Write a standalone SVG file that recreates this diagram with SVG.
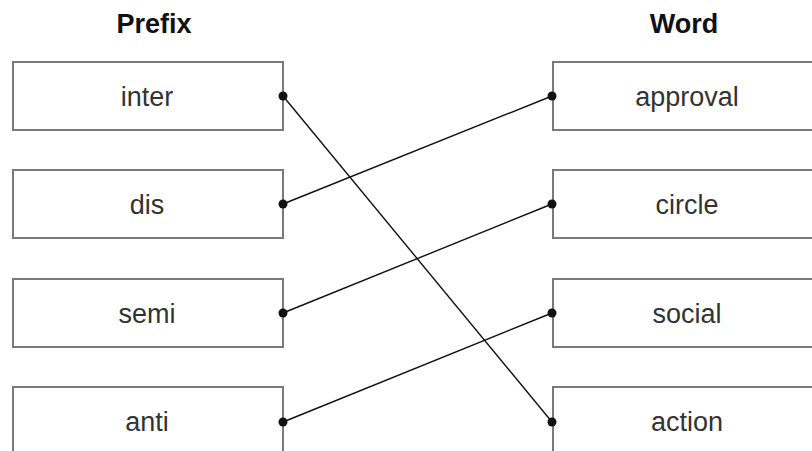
<svg xmlns="http://www.w3.org/2000/svg" width="812" height="451" viewBox="0 0 812 451">
<style>
.box{fill:#fff;stroke:#7a7a7a;stroke-width:2}
.lbl{font-family:"Liberation Sans",Arial,sans-serif;font-size:27px;fill:#333;text-anchor:middle}
.hdr{font-family:"Liberation Sans",Arial,sans-serif;font-size:27px;font-weight:bold;fill:#111;text-anchor:middle}
.conn{stroke:#111;stroke-width:1.4;fill:none}
.dot{fill:#111}
</style>
<rect width="812" height="451" fill="#fff"/>
<text class="hdr" x="154" y="33">Prefix</text>
<text class="hdr" x="684" y="33">Word</text>
<g id="inter"><rect class="box" x="13" y="62" width="270" height="68"/><text class="lbl" x="147" y="106">inter</text></g>
<g id="dis"><rect class="box" x="13" y="170" width="270" height="68"/><text class="lbl" x="147" y="214">dis</text></g>
<g id="semi"><rect class="box" x="13" y="279" width="270" height="68"/><text class="lbl" x="147" y="323">semi</text></g>
<g id="anti"><rect class="box" x="13" y="387" width="270" height="68"/><text class="lbl" x="147" y="431">anti</text></g>
<g id="approval"><rect class="box" x="553" y="62" width="270" height="68"/><text class="lbl" x="687" y="106">approval</text></g>
<g id="circle"><rect class="box" x="553" y="170" width="270" height="68"/><text class="lbl" x="687" y="214">circle</text></g>
<g id="social"><rect class="box" x="553" y="279" width="270" height="68"/><text class="lbl" x="687" y="323">social</text></g>
<g id="action"><rect class="box" x="553" y="387" width="270" height="68"/><text class="lbl" x="687" y="431">action</text></g>
<g id="connectors">
<line class="conn" x1="283" y1="96" x2="552" y2="422"/>
<line class="conn" x1="283" y1="204" x2="552" y2="96"/>
<line class="conn" x1="283" y1="313" x2="552" y2="204"/>
<line class="conn" x1="283" y1="422" x2="552" y2="313"/>
<circle class="dot" cx="283" cy="96" r="4.5"/>
<circle class="dot" cx="283" cy="204" r="4.5"/>
<circle class="dot" cx="283" cy="313" r="4.5"/>
<circle class="dot" cx="283" cy="422" r="4.5"/>
<circle class="dot" cx="552" cy="96" r="4.5"/>
<circle class="dot" cx="552" cy="204" r="4.5"/>
<circle class="dot" cx="552" cy="313" r="4.5"/>
<circle class="dot" cx="552" cy="422" r="4.5"/>
</g>
</svg>
